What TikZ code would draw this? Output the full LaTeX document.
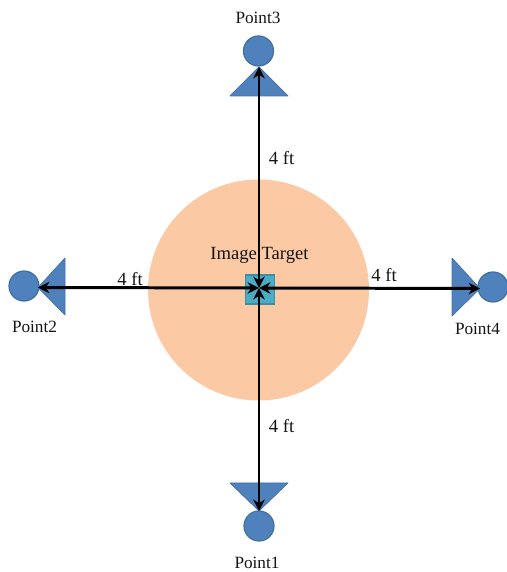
\documentclass[tikz,border=0pt]{standalone}
\usepackage{fontspec}
\setmainfont{Liberation Serif}
\usepackage{tikz}
\usetikzlibrary{arrows.meta}
\definecolor{PointBlue}{HTML}{4F81BD}
\definecolor{PointEdge}{HTML}{41709F}
\definecolor{ZoneOrange}{HTML}{FBC9A3}
\definecolor{TargetTeal}{HTML}{4BACC6}
\definecolor{TargetEdge}{HTML}{3A8FA6}
\tikzset{
    wedge/.style={fill=PointBlue, draw=PointEdge, line join=round, thin},
    station/.style={circle, fill=PointBlue, draw=PointEdge, line width=0.7pt, minimum size=0.6cm, inner sep=0pt},
    span/.style={<->, black, line width=1.7pt},
    caption/.style={font=\fontsize{10.6}{12}\selectfont, text=black!92, inner sep=0pt},
    pointname/.style={caption, font=\fontsize{9.8}{12}\selectfont}
}
\begin{document}
\begin{tikzpicture}[>={Stealth[length=6.5pt,width=6.5pt]}]
        \useasboundingbox (0,0) rectangle (10.12,11.44);
        % Orange zone round the target
        \fill [ZoneOrange] (5.17,5.64) circle (2.21);
        % Target in the middle
        \node [draw=TargetEdge, fill=TargetTeal, line width=0.7pt, minimum size=0.58cm, inner sep=0pt] (target) at (5.2,5.65) {};
        \coordinate (centre) at (5.18,5.68);
        % Triangles with their tips
        \coordinate (tip3) at (5.18,10.10);
        \coordinate (tip1) at (5.18,1.22);
        \coordinate (tip2) at (0.76,5.69);
        \coordinate (tip4) at (9.60,5.67);
        \draw [wedge] (tip3) -- (5.76,9.52) -- (4.60,9.52) -- cycle;
        \draw [wedge] (tip1) -- (5.76,1.78) -- (4.60,1.78) -- cycle;
        \draw [wedge] (tip2) -- (1.30,6.28) -- (1.30,5.14) -- cycle;
        \draw [wedge] (tip4) -- (9.04,6.28) -- (9.04,5.12) -- cycle;
        % Circles on the triangles
        \node [station] (point3) at (5.17,10.42) {};
        \node [station] (point1) at (5.18,0.92) {};
        \node [station] (point2) at (0.48,5.72) {};
        \node [station] (point4) at (9.86,5.70) {};
        % Distances
        \draw [span] (tip3) -- (centre);
        \draw [span] (tip1) -- (centre);
        \draw [span] (tip2) -- (centre);
        \draw [span] (tip4) -- (centre);
        % Labels
        \node [pointname] (label3) at (5.16,11.08) {Point3};
        \node [pointname] (label1) at (5.14,0.18) {Point1};
        \node [pointname] (label2) at (0.69,4.90) {Point2};
        \node [pointname] (label4) at (9.55,4.86) {Point4};
        \node [caption] (feet3) at (5.63,8.28) {4 ft};
        \node [caption] (feet1) at (5.63,2.92) {4 ft};
        \node [caption] (feet2) at (2.60,5.86) {4 ft};
        \node [caption] (feet4) at (7.68,5.94) {4 ft};
        \node [caption] (name) at (5.19,6.34) {Image Target};
    \end{tikzpicture}
\end{document}
